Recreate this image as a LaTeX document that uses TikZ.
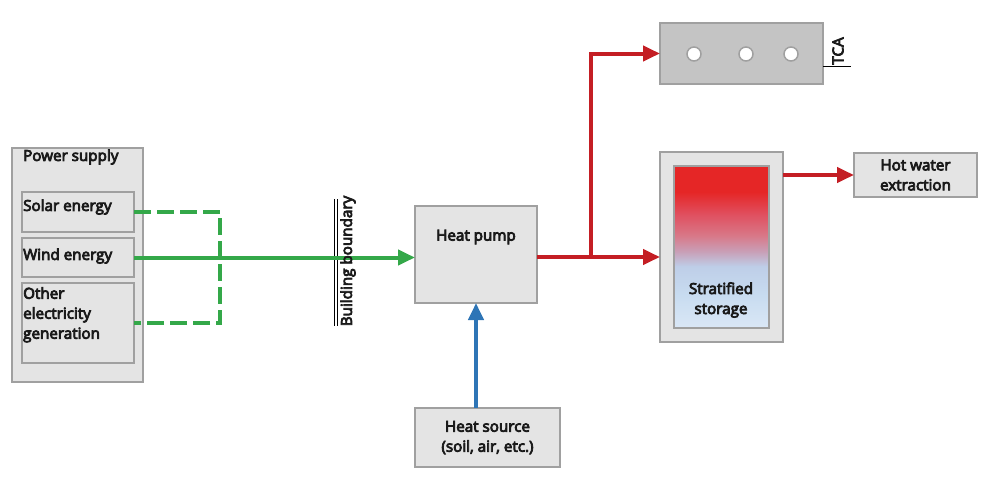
\documentclass[tikz,border=0pt]{standalone}
\usepackage{fontspec}
\setmainfont{Open Sans}[FakeBold=5]
\usetikzlibrary{arrows.meta,calc}
\definecolor{boxfill}{HTML}{E4E4E4}
\definecolor{boxline}{HTML}{A0A0A0}
\definecolor{tcafill}{HTML}{C4C4C4}
\definecolor{textcol}{HTML}{1A1A1A}
\definecolor{flowgreen}{HTML}{34A849}
\definecolor{flowred}{HTML}{C41E24}
\definecolor{flowblue}{HTML}{2E75B6}
\definecolor{tankred}{HTML}{E52626}
\definecolor{tankrose}{HTML}{E05060}
\definecolor{tankpink}{HTML}{D87888}
\definecolor{tankmauve}{HTML}{C8A0B8}
\definecolor{tankblueA}{HTML}{BECEE8}
\definecolor{tankblueB}{HTML}{C8DCF0}
\definecolor{tankblueC}{HTML}{DAE7F6}
\pgfdeclareverticalshading{tank}{100bp}{color(0bp)=(tankblueC); color(25bp)=(tankblueC); color(35bp)=(tankblueB); color(44bp)=(tankblueA); color(48.5bp)=(tankmauve); color(53.5bp)=(tankpink); color(60bp)=(tankrose); color(67bp)=(tankred); color(100bp)=(tankred)}
\begin{document}
\begin{tikzpicture}[x=1pt,y=-1pt,
  box/.style={draw=boxline,fill=boxfill,line width=1.5pt,anchor=north west,inner sep=0pt,outer sep=0pt},
  txt/.style={font=\fontsize{15.2}{20}\selectfont,text=textcol,inner sep=0pt,align=left},
  ctxt/.style={font=\fontsize{15.2}{20}\selectfont,text=textcol,inner sep=0pt,align=center},
  flow/.style={line width=4pt},
  tip/.style={-{Triangle[length=17pt,width=15pt]}}
]
\useasboundingbox (0,0) rectangle (989,482);

% power supply
\node[box,minimum width=131pt,minimum height=234pt] (ps) at (12,148) {};
\node[txt,anchor=west] (pslbl) at (23,157) {Power supply};
\node[box,minimum width=112pt,minimum height=40pt] (solar) at (22,192) {};
\node[txt,anchor=west] (solarlbl) at (23,207) {Solar energy};
\node[box,minimum width=112pt,minimum height=39pt] (wind) at (22,238) {};
\node[txt,anchor=west] (windlbl) at (23,256) {Wind energy};
\node[box,minimum width=112pt,minimum height=80pt] (other) at (22,283) {};
\node[txt,anchor=north west] (otherlbl) at (23,287) {Other\\electricity\\generation};

% heat pump and heat source
\node[box,minimum width=122pt,minimum height=97pt] (hp) at (415,206) {};
\node[ctxt] (hplbl) at (476,237) {Heat pump};
\node[box,minimum width=145pt,minimum height=59pt] (hs) at (415,408) {};
\node[ctxt] (hslbl) at (487.5,437.5) {Heat source\\(soil, air, etc.)};

% TCA
\node[box,fill=tcafill,minimum width=163pt,minimum height=61pt] (tca) at (660,23) {};
\foreach \cx/\nm in {694/c1,746/c2,791/c3}
  \node[circle,draw=boxline,fill=white,line width=1.5pt,minimum size=14pt,inner sep=0pt] (\nm) at (\cx,54) {};
\node[txt,rotate=90] (tcalbl) at (838,51) {TCA};
\coordinate (tcaA) at (823,66);
\coordinate (tcaB) at (851,66);
\draw[line width=1pt] (tcaA) -- (tcaB);

% storage
\node[box,minimum width=123pt,minimum height=190pt] (st) at (660,152) {};
\node[box,shade,shading=tank,line width=1.2pt,minimum width=95pt,minimum height=162pt] (tank) at (674,166) {};
\node[ctxt] (stlbl) at (721,300) {Stratified\\storage};

% hot water
\node[box,minimum width=123pt,minimum height=44pt] (hw) at (854,153) {};
\node[ctxt] (hwlbl) at (915.5,175) {Hot water\\extraction};

% building boundary
\coordinate (bb1a) at (334,199);
\coordinate (bb1b) at (334,326);
\coordinate (bb2a) at (337.5,199);
\coordinate (bb2b) at (337.5,326);
\draw[line width=1pt] (bb1a) -- (bb1b) (bb2a) -- (bb2b);

% green connectors
\coordinate (gj) at (220,257);
\draw[flow,flowgreen,dash pattern=on 17pt off 6pt] (solar.east) -| (gj) |- (other.east);
\draw[flow,flowgreen,tip] (wind.east) -- (wind.east -| hp.west);

\node[txt,rotate=90] (bblbl) at (348,261) {Building boundary};

% red connectors
\coordinate (br) at (591,257);
\draw[flow,flowred,tip] (hp.east |- br) -- (st.west |- br);
\draw[flow,flowred,tip] (br) |- (tca.west);
\draw[flow,flowred,tip] (st.east |- hw.west) -- (hw.west);

% blue connector
\draw[flow,flowblue,tip] (hs.north -| hp.south) -- (hp.south);
\end{tikzpicture}
\end{document}
